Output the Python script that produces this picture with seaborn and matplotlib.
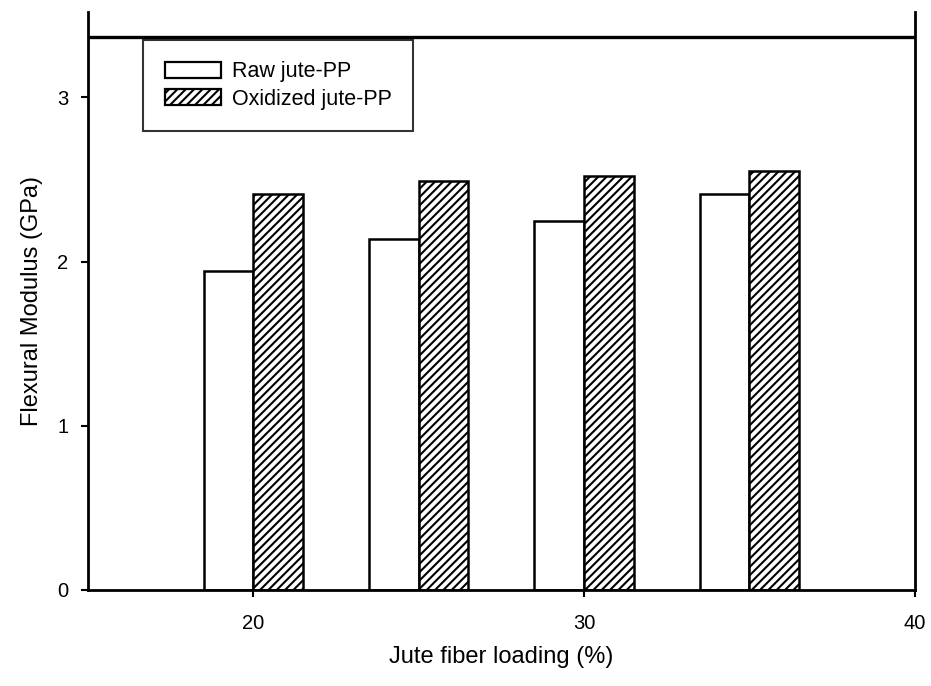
import matplotlib
matplotlib.use("Agg")
import matplotlib.pyplot as plt
import seaborn as sns
import pandas as pd
from matplotlib.patches import Patch

# Flexural modulus of jute-PP composites at several fibre loadings
loading = [20, 25, 30, 35]
raw_modulus = [1.94, 2.14, 2.25, 2.41]
oxidized_modulus = [2.41, 2.49, 2.52, 2.55]
series = ["Raw jute-PP", "Oxidized jute-PP"]

df = pd.DataFrame({
    "loading": loading * 2,
    "modulus": raw_modulus + oxidized_modulus,
    "series": [series[0]] * len(loading) + [series[1]] * len(loading),
})

sns.set_style("ticks")
plt.rcParams["font.family"] = ["Liberation Sans", "DejaVu Sans"]
plt.rcParams["hatch.linewidth"] = 1.5
plt.rcParams["text.color"] = "black"
plt.rcParams["axes.labelcolor"] = "black"

fig = plt.figure(figsize=(9.31, 6.86), dpi=100)
ax = fig.add_axes([0.0945, 0.14, 0.888, 0.8425])

sns.barplot(
    data=df, x="loading", y="modulus", hue="series", hue_order=series,
    native_scale=True, width=0.6, palette=["white", "white"],
    edgecolor="black", linewidth=1.8, legend=False, ax=ax,
)

HATCH = "////"
# hatch the oxidized series
n = len(loading)
for i, bar in enumerate(ax.patches):
    if i >= n:
        bar.set_hatch(HATCH)

ax.set_xlim(15, 40)
ax.set_ylim(0, 3.52)
ax.set_xticks([20, 30, 40])
ax.set_xticklabels(["20", "30", "40"])
ax.set_yticks([0, 1, 2, 3])
ax.set_yticklabels(["0", "1", "2", "3"])
ax.axhline(3.37, color="black", lw=2.4)

ax.spines["top"].set_visible(False)
for s in ["left", "right", "bottom"]:
    ax.spines[s].set_linewidth(2.0)
    ax.spines[s].set_color("black")

ax.tick_params(axis="both", direction="out", length=5, width=1.5,
               labelsize=14.5, colors="black")
ax.tick_params(axis="x", pad=12)
ax.tick_params(axis="y", pad=9)
ax.set_xlabel("Jute fiber loading (%)", fontsize=17, labelpad=10, color="black")
ax.set_ylabel("Flexural Modulus (GPa)", fontsize=17, labelpad=10, color="black")

handles = [
    Patch(facecolor="white", edgecolor="black", linewidth=1.6, label=series[0]),
    Patch(facecolor="white", edgecolor="black", linewidth=1.6, hatch=HATCH, label=series[1]),
]
leg = ax.legend(handles=handles, loc="upper left", bbox_to_anchor=(0.067, 0.952),
                fontsize=15.5, frameon=True, fancybox=False, handlelength=2.6,
                handleheight=0.8, borderpad=1.0, labelspacing=0.3, handletextpad=0.5,
                borderaxespad=0)
leg.get_frame().set_edgecolor("black")
leg.get_frame().set_linewidth(1.5)
for t in leg.get_texts():
    t.set_color("black")

fig.savefig("out.png", dpi=100)
